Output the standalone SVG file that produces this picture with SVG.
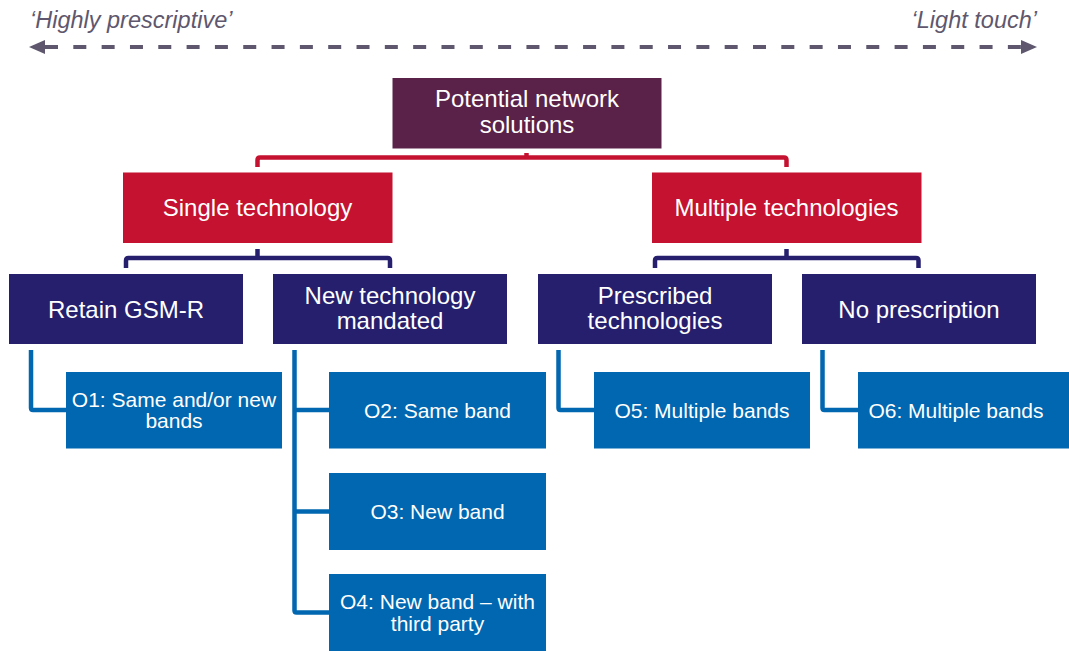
<svg xmlns="http://www.w3.org/2000/svg" width="1069" height="651" viewBox="0 0 1069 651">
<defs>
<style>
text{font-family:"Liberation Sans",Arial,sans-serif;fill:#ffffff;text-anchor:middle}
.l1{font-size:24px}
.l4{font-size:21px}
.scale{font-size:23.5px;font-style:italic;fill:#5e576d}
.root{fill:#5a2248}
.red{fill:#c41230}
.navy{fill:#251f6e}
.blue{fill:#0067b0}
.cr{fill:none;stroke:#c41230;stroke-width:4.5}
.cn{fill:none;stroke:#251f6e;stroke-width:4.5}
.cb{fill:none;stroke:#0067b0;stroke-width:4.5}
.arr{fill:none;stroke:#5e576d;stroke-width:4;stroke-dasharray:13 15.32}
</style>
<marker id="ah" viewBox="0 0 16 14" refX="0" refY="7" markerWidth="16" markerHeight="14" orient="auto-start-reverse" markerUnits="userSpaceOnUse">
<path d="M0,0 L16,7 L0,14 Z" fill="#5e576d"/>
</marker>
</defs>
<rect width="1069" height="651" fill="#ffffff"/>

<g id="scale">
<text class="scale" x="30" y="28" style="text-anchor:start">‘Highly prescriptive’</text>
<text class="scale" x="1037" y="28" style="text-anchor:end">‘Light touch’</text>
</g>

<g id="connectors">
<line class="arr" x1="45" y1="47" x2="1021" y2="47" marker-start="url(#ah)" marker-end="url(#ah)"/>
<path class="cr" d="M257.5,167 V160 Q257.5,157.5 260,157.5 H784 Q786.5,157.5 786.5,160 V167"/>
<path class="cr" d="M526.5,153 V157.5"/>
<path class="cn" d="M126,268 V260.5 Q126,258 128.5,258 H387.5 Q390,258 390,260.5 V268"/>
<path class="cn" d="M257.5,249 V258"/>
<path class="cn" d="M655,268 V260.5 Q655,258 657.5,258 H916 Q918.5,258 918.5,260.5 V268"/>
<path class="cn" d="M786.5,249 V258"/>
<path class="cb" d="M31,350 V408 Q31,410 33,410 H66"/>
<path class="cb" d="M294.5,350 V610.5 Q294.5,612.5 296.5,612.5 H329"/>
<path class="cb" d="M294.5,410 H329"/>
<path class="cb" d="M294.5,511.5 H329"/>
<path class="cb" d="M558.5,350 V408 Q558.5,410 560.5,410 H594"/>
<path class="cb" d="M822.5,350 V408 Q822.5,410 824.5,410 H858"/>
</g>

<g id="root">
<rect class="root" x="392.5" y="78" width="269" height="70.5"/>
<text class="l1" x="527" y="107">Potential network</text>
<text class="l1" x="527" y="132.5">solutions</text>
</g>

<g id="single">
<rect class="red" x="123" y="172.5" width="269.5" height="70.5"/>
<text class="l1" x="257.5" y="216">Single technology</text>
</g>
<g id="multiple">
<rect class="red" x="652" y="172.5" width="269.5" height="70.5"/>
<text class="l1" x="786.5" y="216">Multiple technologies</text>
</g>

<g id="retain">
<rect class="navy" x="9" y="274" width="234" height="70"/>
<text class="l1" x="126" y="317.5">Retain GSM-R</text>
</g>
<g id="newtech">
<rect class="navy" x="273" y="274" width="234" height="70"/>
<text class="l1" x="390" y="304">New technology</text>
<text class="l1" x="390" y="329">mandated</text>
</g>
<g id="prescribed">
<rect class="navy" x="538" y="274" width="234" height="70"/>
<text class="l1" x="655" y="304">Prescribed</text>
<text class="l1" x="655" y="329">technologies</text>
</g>
<g id="noprescription">
<rect class="navy" x="802" y="274" width="234" height="70"/>
<text class="l1" x="919" y="317.5">No prescription</text>
</g>

<g id="o1">
<rect class="blue" x="66" y="372" width="216" height="76.5"/>
<text class="l4" x="174" y="406.5">O1: Same and/or new</text>
<text class="l4" x="174" y="428">bands</text>
</g>
<g id="o2">
<rect class="blue" x="329" y="372" width="217" height="76.5"/>
<text class="l4" x="437.5" y="417.5">O2: Same band</text>
</g>
<g id="o3">
<rect class="blue" x="329" y="473" width="217" height="77"/>
<text class="l4" x="437.5" y="519">O3: New band</text>
</g>
<g id="o4">
<rect class="blue" x="329" y="574" width="217" height="77"/>
<text class="l4" x="437.5" y="609">O4: New band – with</text>
<text class="l4" x="437.5" y="630.5">third party</text>
</g>
<g id="o5">
<rect class="blue" x="594" y="372" width="216" height="76.5"/>
<text class="l4" x="702" y="417.5">O5: Multiple bands</text>
</g>
<g id="o6">
<rect class="blue" x="858" y="372" width="216" height="76.5"/>
<text class="l4" x="956" y="417.5">O6: Multiple bands</text>
</g>
</svg>
